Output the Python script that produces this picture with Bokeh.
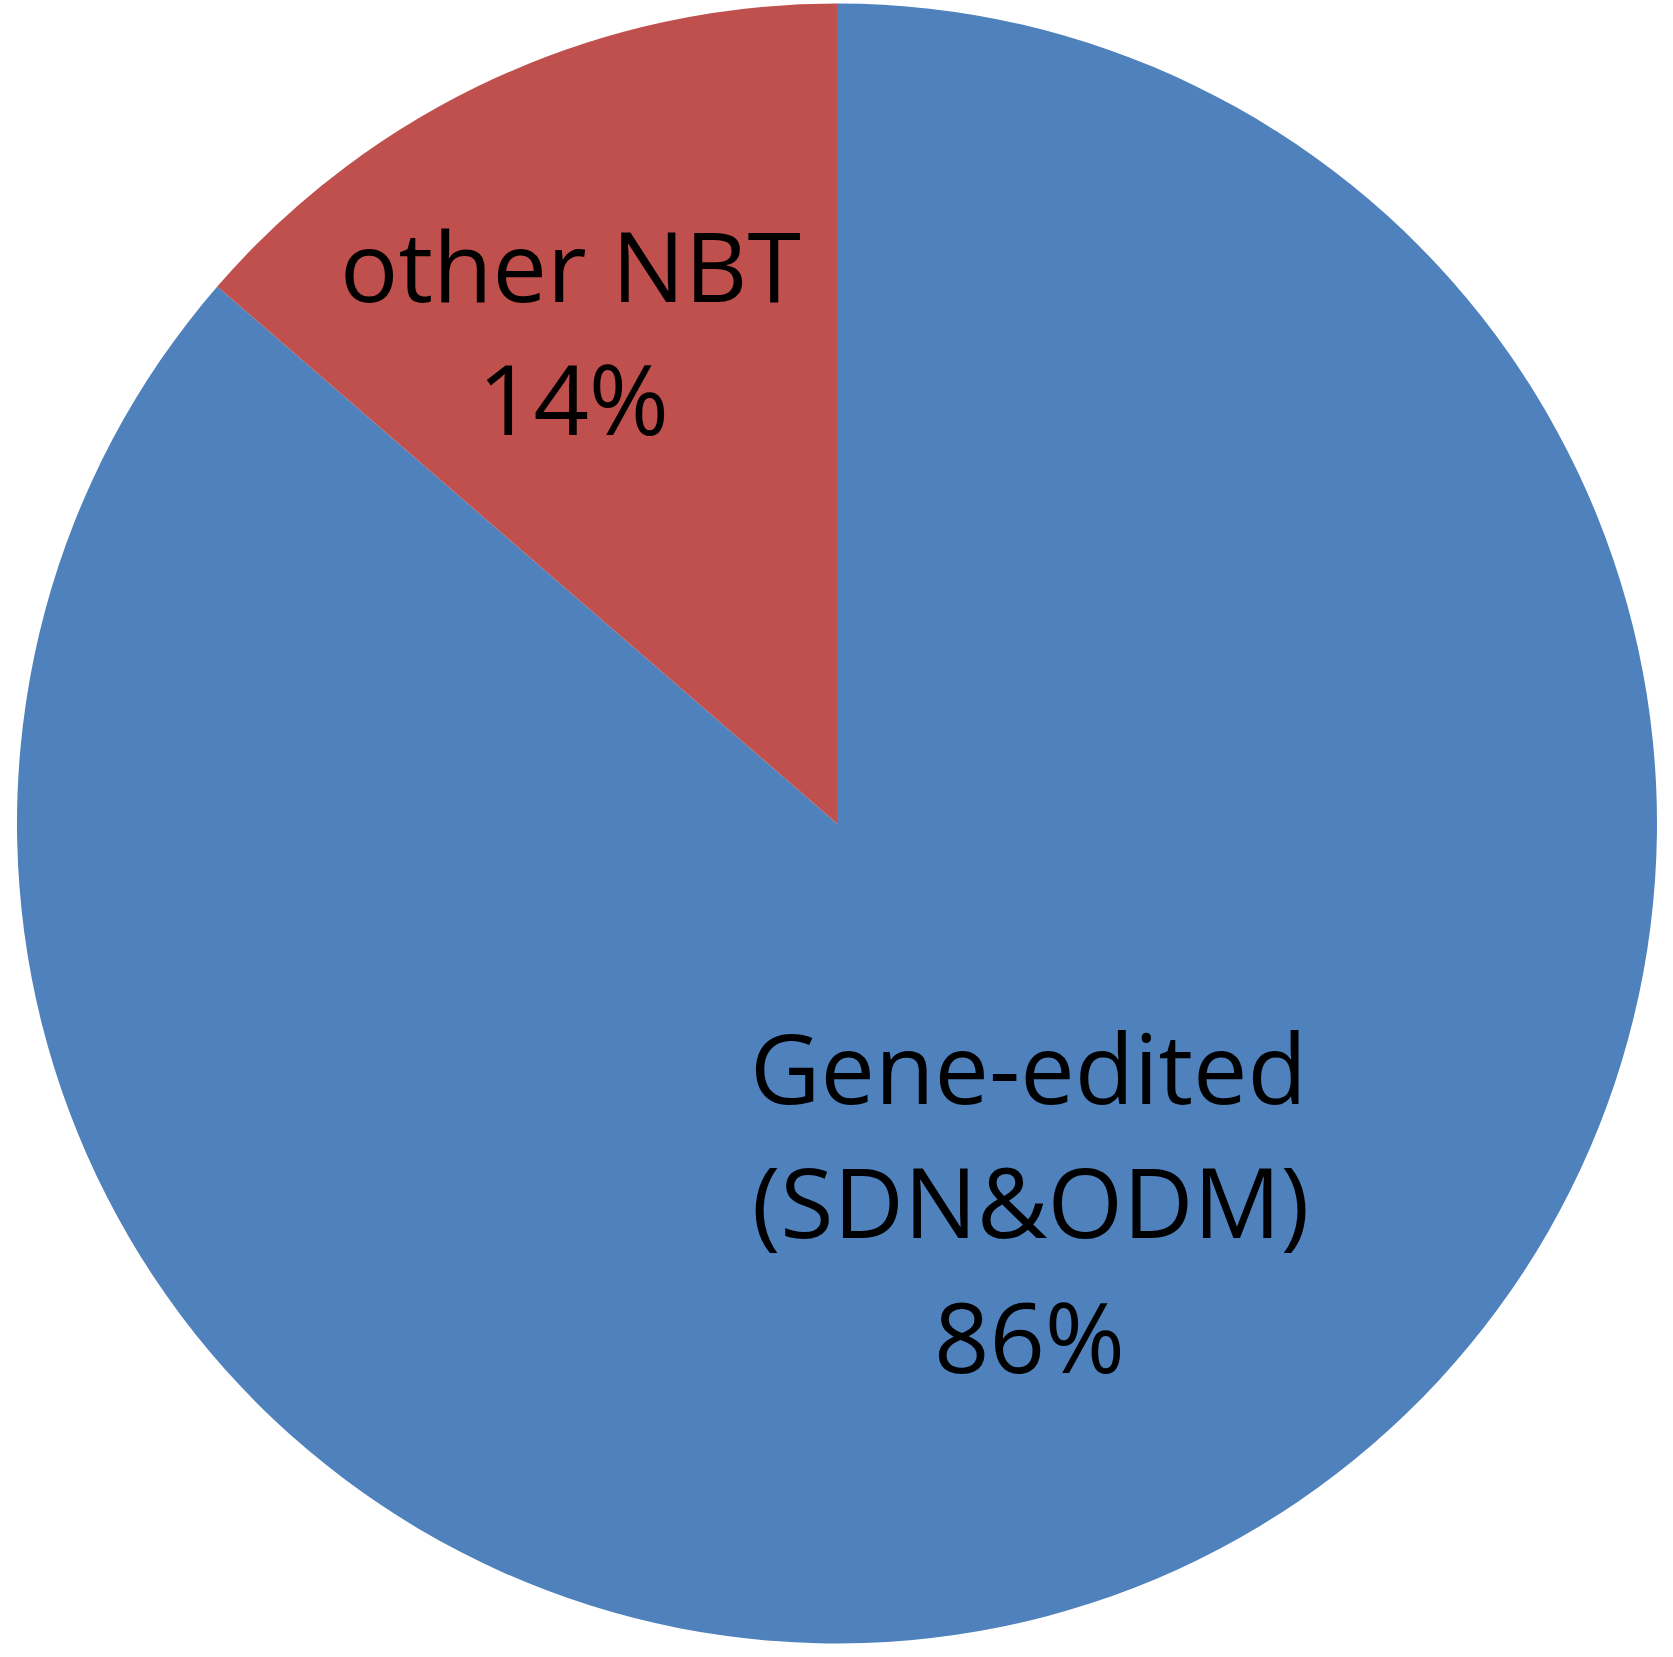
import math
from bokeh.plotting import figure
from bokeh.models import ColumnDataSource
from bokeh.core.properties import value
from bokeh.embed import file_html
from bokeh.resources import INLINE

# ---- data ----
categories = ["Gene-edited\n(SDN&ODM)", "other NBT"]
counts = [19, 3]
colors = ["#4F81BD", "#C0504D"]

W, H = 1657, 1648
p = figure(width=W, height=H, x_range=(0, W), y_range=(0, H),
           output_backend="svg", toolbar_location=None,
           min_border=0, outline_line_color=None)
p.axis.visible = False
p.grid.visible = False
p.background_fill_color = "white"

cx, cy, r = 836.5, 825.0, 820.0

total = sum(counts)
fracs = [c / total for c in counts]
# other NBT drawn counter-clockwise from 12 o'clock, gene-edited fills the rest
start_red = math.pi / 2
end_red = start_red + 2 * math.pi * fracs[1]
starts = [end_red, start_red]
ends = [start_red + 2 * math.pi, end_red]

src = ColumnDataSource(dict(start=starts, end=ends, color=colors))
p.wedge(x=cx, y=cy, radius=r, start_angle="start", end_angle="end",
        fill_color="color", line_color=None, source=src)

pct = [f"{round(f * 100)}%" for f in fracs]

blue_lines = categories[0].split("\n") + [pct[0]]
red_lines = categories[1].split("\n") + [pct[1]]

blue_x = [1028, 1030, 1029]
blue_y = [583, 449, 314]
red_x = [570, 573]
red_y = [1385, 1252]

for xs, ys, lines in ((blue_x, blue_y, blue_lines), (red_x, red_y, red_lines)):
    p.text(x=xs, y=ys, text=lines, text_font=value("Open Sans"),
           text_font_size="97px", text_align="center",
           text_baseline="alphabetic", text_color="black")

open("out.html", "w").write(file_html(p, INLINE))
